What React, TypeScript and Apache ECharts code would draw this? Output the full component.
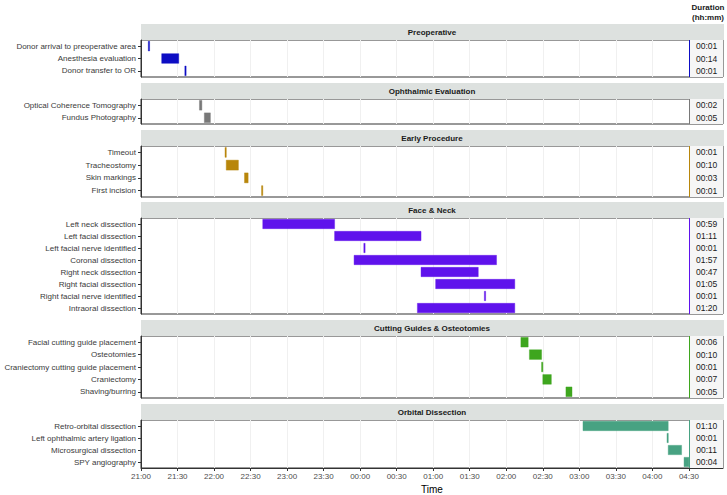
import { useEffect, useRef } from 'react';
import * as echarts from 'echarts';

// ---------- data ----------
const START_HOUR = 21; // axis origin 21:00
const END_MARK = '04:30';
const timeTickLabels = ['21:00', '21:30', '22:00', '22:30', '23:00', '23:30', '00:00', '00:30', '01:00', '01:30', '02:00', '02:30', '03:00', '03:30', '04:00', '04:30'];

const panelNames = ['Preoperative', 'Ophthalmic Evaluation', 'Early Procedure', 'Face & Neck', 'Cutting Guides & Osteotomies', 'Orbital Dissection'];

const preopTasks = ['Donor arrival to preoperative area', 'Anesthesia evaluation', 'Donor transfer to OR'];
const preopStart = ['21:06', '21:17', '21:36'];
const preopDuration = [1, 14, 1];

const ophthTasks = ['Optical Coherence Tomography', 'Fundus Photography'];
const ophthStart = ['21:48', '21:52'];
const ophthDuration = [2, 5];

const earlyTasks = ['Timeout', 'Tracheostomy', 'Skin markings', 'First incision'];
const earlyStart = ['22:09', '22:10', '22:25', '22:39'];
const earlyDuration = [1, 10, 3, 1];

const faceTasks = ['Left neck dissection', 'Left facial dissection', 'Left facial nerve identified', 'Coronal dissection', 'Right neck dissection', 'Right facial dissection', 'Right facial nerve identified', 'Intraoral dissection'];
const faceStart = ['22:40', '23:39', '00:03', '23:55', '00:50', '01:02', '01:42', '00:47'];
const faceDuration = [59, 71, 1, 117, 47, 65, 1, 80];

const cutTasks = ['Facial cutting guide placement', 'Osteotomies', 'Craniectomy cutting guide placement', 'Craniectomy', 'Shaving/burring'];
const cutStart = ['02:12', '02:19', '02:29', '02:30', '02:49'];
const cutDuration = [6, 10, 1, 7, 5];

const orbTasks = ['Retro-orbital dissection', 'Left ophthalmic artery ligation', 'Microsurgical dissection', 'SPY angiography'];
const orbStart = ['03:03', '04:12', '04:13', '04:26'];
const orbDuration = [70, 1, 11, 4];

// ---------- styles / layout ----------
const panelColors = ['#0d0dc4', '#787878', '#b8860b', '#5f12ec', '#3ea61e', '#47a282'];
const panelLayout = [
  { top: 40, height: 37 },
  { top: 99, height: 25 },
  { top: 146, height: 51 },
  { top: 218, height: 96 },
  { top: 336, height: 62 },
  { top: 420, height: 52 },
];
const PLOT_LEFT = 141;
const PLOT_WIDTH = 582;
const X_MAX = 478; // minutes after 21:00 at right edge
const LABEL_X = 464.5; // minutes, centre of duration column
const STRIP_H = 16;
const FONT = 'Liberation Sans, Arial, Helvetica, sans-serif';

const pad = (n: number) => (n < 10 ? '0' : '') + n;
const toMin = (s: string) => {
  const [h, m] = s.split(':').map(Number);
  let t = h * 60 + m - START_HOUR * 60;
  if (t < 0) t += 1440;
  return t;
};
const fmtTime = (v: number) => {
  const t = Math.round(v + START_HOUR * 60) % 1440;
  return pad(Math.floor(t / 60)) + ':' + pad(t % 60);
};
const fmtDur = (d: number) => pad(Math.floor(d / 60)) + ':' + pad(d % 60);

const panels = [
  { tasks: preopTasks, starts: preopStart, durs: preopDuration },
  { tasks: ophthTasks, starts: ophthStart, durs: ophthDuration },
  { tasks: earlyTasks, starts: earlyStart, durs: earlyDuration },
  { tasks: faceTasks, starts: faceStart, durs: faceDuration },
  { tasks: cutTasks, starts: cutStart, durs: cutDuration },
  { tasks: orbTasks, starts: orbStart, durs: orbDuration },
].map((p, i) => ({ ...p, name: panelNames[i], color: panelColors[i] }));

export default function App() {
  const ref = useRef<HTMLDivElement>(null);
  useEffect(() => {
    document.body.style.margin = '0';
    document.body.style.overflow = 'hidden';
    if (!ref.current) return;
    const chart = echarts.init(ref.current, undefined, { renderer: 'svg' });
    const last = panels.length - 1;
    const tickVals = timeTickLabels.map(toMin);
    const endMark = toMin(END_MARK);

    const grid = panels.map((_, i) => ({
      left: PLOT_LEFT,
      width: PLOT_WIDTH,
      top: panelLayout[i].top,
      height: panelLayout[i].height,
      show: true,
      backgroundColor: '#ffffff',
      borderColor: '#333333',
      borderWidth: 1,
    }));

    const xAxis = panels.map((_, i) => ({
      gridIndex: i,
      type: 'value',
      min: 0,
      max: X_MAX,
      interval: 30,
      axisLine: { show: i === last, lineStyle: { color: '#333333' } },
      axisTick: { show: i === last, length: 3, lineStyle: { color: '#333333' }, customValues: tickVals },
      axisLabel: {
        show: i === last,
        customValues: tickVals,
        formatter: (v: number) => fmtTime(v),
        fontSize: 8,
        color: '#4d4d4d',
        margin: 4,
        fontFamily: FONT,
      },
      splitLine: { show: true, lineStyle: { color: '#f0f0f0', width: 1 } },
      name: i === last ? 'Time' : '',
      nameLocation: 'middle',
      nameGap: 16,
      nameTextStyle: { fontSize: 10, color: '#000000', fontFamily: FONT },
    }));

    const yAxis = panels.map((p, i) => ({
      gridIndex: i,
      type: 'category',
      data: p.tasks,
      inverse: true,
      axisLine: { show: true, lineStyle: { color: '#333333' } },
      axisTick: { show: true, length: 3, alignWithLabel: true, lineStyle: { color: '#333333' } },
      axisLabel: { fontSize: 8, color: '#3a3a3a', margin: 5, fontFamily: FONT },
      splitLine: { show: false },
    }));

    const series: any[] = [];
    panels.forEach((p, i) => {
      series.push({
        type: 'custom',
        xAxisIndex: i,
        yAxisIndex: i,
        encode: { x: [0, 1], y: 2 },
        data: p.tasks.map((_, j) => {
          const s = toMin(p.starts[j]);
          return [s, s + p.durs[j], j];
        }),
        renderItem: (params: any, api: any) => {
          const y = api.value(2);
          const p0 = api.coord([api.value(0), y]);
          const p1 = api.coord([api.value(1), y]);
          const h = api.size([0, 1])[1] * 0.78;
          const w = Math.max(p1[0] - p0[0], 1.3);
          return {
            type: 'rect',
            shape: { x: p0[0], y: p0[1] - h / 2, width: w, height: h },
            style: { fill: p.color, stroke: p.color, lineWidth: 0.4 },
          };
        },
        z: 3,
      });
      series.push({
        type: 'custom',
        xAxisIndex: i,
        yAxisIndex: i,
        encode: { x: 0, y: 1 },
        data: p.tasks.map((_, j) => [LABEL_X, j, p.durs[j]]),
        renderItem: (params: any, api: any) => {
          const pt = api.coord([api.value(0), api.value(1)]);
          return {
            type: 'text',
            x: pt[0],
            y: pt[1],
            style: {
              text: fmtDur(api.value(2)),
              align: 'center',
              verticalAlign: 'middle',
              fontSize: 8.5,
              fontFamily: FONT,
              fill: '#1a1a1a',
            },
          };
        },
        markArea: {
          silent: true,
          itemStyle: { color: '#f6f6f6' },
          data: [[{ xAxis: endMark }, { xAxis: X_MAX }]],
        },
        markLine: {
          silent: true,
          symbol: ['none', 'none'],
          label: { show: false },
          lineStyle: { color: p.color, width: 1, type: 'solid' },
          data: [{ xAxis: endMark }],
        },
        z: 4,
      });
    });

    const graphic: any[] = [];
    panels.forEach((p, i) => {
      const top = panelLayout[i].top - STRIP_H;
      graphic.push({
        type: 'rect',
        shape: { x: PLOT_LEFT, y: top, width: PLOT_WIDTH + 1, height: STRIP_H },
        style: { fill: '#dde1df' },
        silent: true,
      });
      graphic.push({
        type: 'text',
        x: PLOT_LEFT + PLOT_WIDTH / 2,
        y: top + STRIP_H / 2,
        style: {
          text: p.name,
          align: 'center',
          verticalAlign: 'middle',
          fontSize: 8,
          fontWeight: 'bold',
          fontFamily: FONT,
          fill: '#1a1a1a',
        },
        silent: true,
      });
    });
    graphic.push({
      type: 'text',
      x: 708,
      y: 2,
      style: {
        text: 'Duration\n(hh:mm)',
        align: 'center',
        verticalAlign: 'top',
        fontSize: 8,
        lineHeight: 10,
        fontWeight: 'bold',
        fontFamily: FONT,
        fill: '#1a1a1a',
      },
      silent: true,
    });

    chart.setOption({
      animation: false,
      textStyle: { fontFamily: FONT },
      grid,
      xAxis,
      yAxis,
      series,
      graphic,
    });
    return () => chart.dispose();
  }, []);
  return <div ref={ref} style={{ width: 727, height: 495 }} />;
}
